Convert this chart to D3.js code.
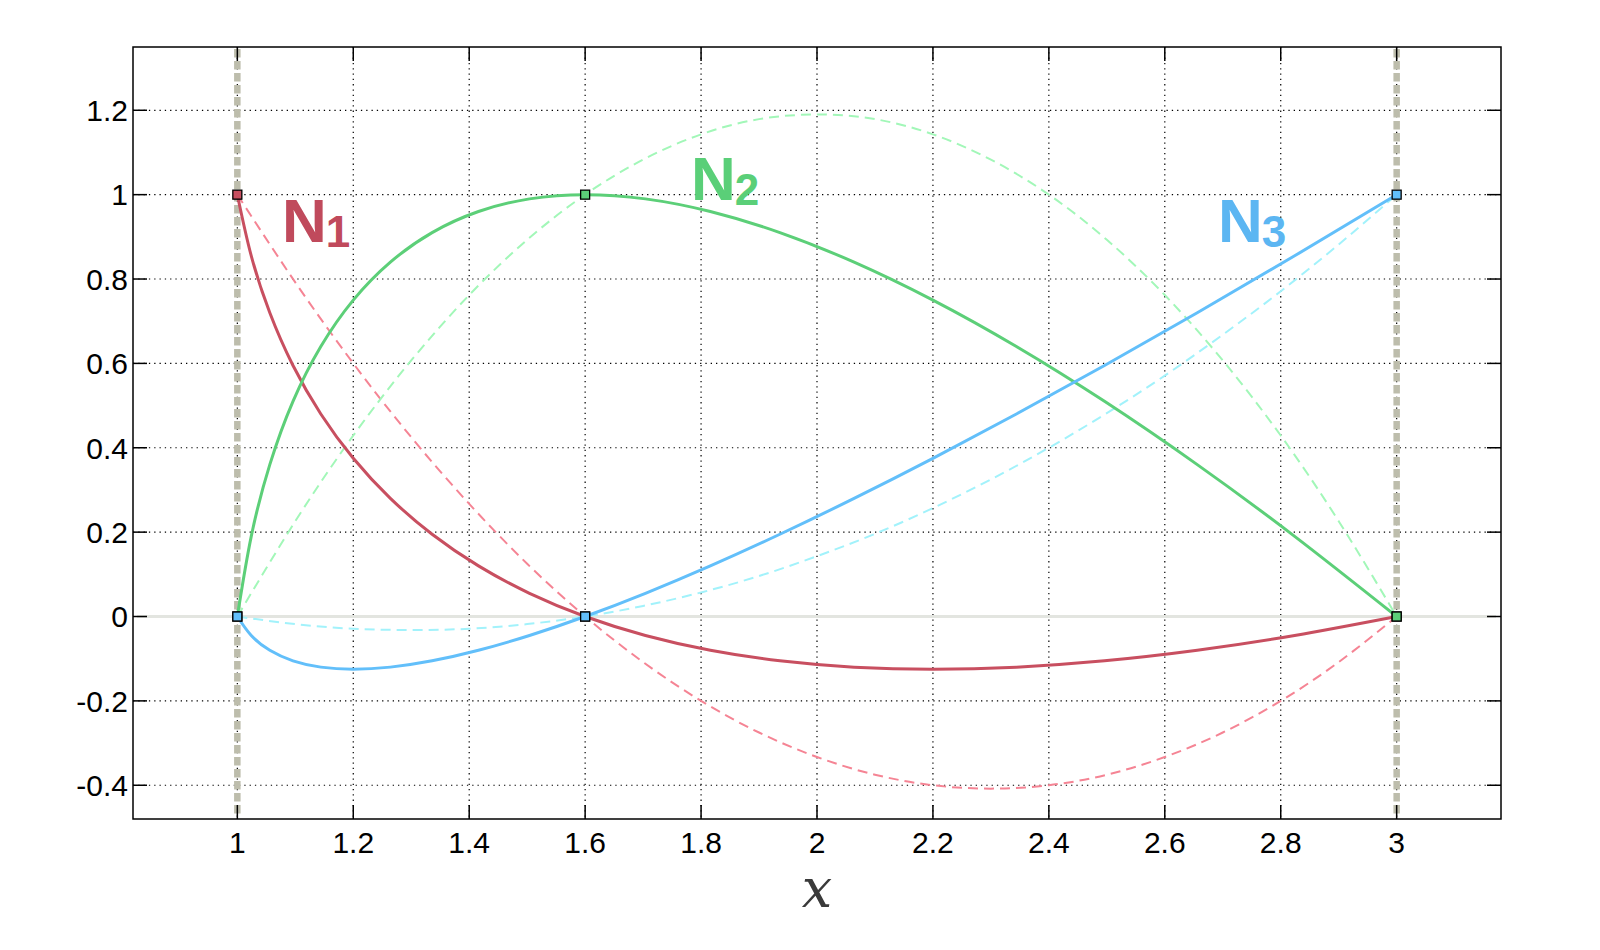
<!DOCTYPE html>
<html>
<head>
<meta charset="utf-8">
<script src="https://cdn.jsdelivr.net/npm/d3@7"></script>
<style>
  body { margin: 0; background: #fff; }
  svg { display: block; }
</style>
</head>
<body>
<svg id="chart" width="1600" height="950"></svg>
<script>
// nodes of the element
const nodeX = [1, 1.6, 3]

// solid curves (isoparametric mapping)
const solidX  = [1, 1.024, 1.056, 1.096, 1.144, 1.2, 1.264, 1.336, 1.416, 1.504, 1.6,
                 1.704, 1.816, 1.936, 2.064, 2.2, 2.344, 2.496, 2.656, 2.824, 3]
const solidN1 = [1, 0.855, 0.72, 0.595, 0.48, 0.375, 0.28, 0.195, 0.12, 0.055, 0,
                 -0.045, -0.08, -0.105, -0.12, -0.125, -0.12, -0.105, -0.08, -0.045, 0]
const solidN2 = [0, 0.19, 0.36, 0.51, 0.64, 0.75, 0.84, 0.91, 0.96, 0.99, 1,
                 0.99, 0.96, 0.91, 0.84, 0.75, 0.64, 0.51, 0.36, 0.19, 0]
const solidN3 = [0, -0.045, -0.08, -0.105, -0.12, -0.125, -0.12, -0.105, -0.08, -0.045, 0,
                 0.055, 0.12, 0.195, 0.28, 0.375, 0.48, 0.595, 0.72, 0.855, 1]

// dashed curves
const dashX  = [1, 1.1, 1.2, 1.3, 1.4, 1.5, 1.6, 1.7, 1.8, 1.9, 2,
                2.1, 2.2, 2.3, 2.4, 2.5, 2.6, 2.7, 2.8, 2.9, 3]
const dashN1 = [1, 0.792, 0.6, 0.425, 0.267, 0.125, 0, -0.108, -0.2, -0.275, -0.333,
                -0.375, -0.4, -0.408, -0.4, -0.375, -0.333, -0.275, -0.2, -0.108, 0]
const dashN2 = [0, 0.226, 0.429, 0.607, 0.762, 0.893, 1, 1.083, 1.143, 1.179, 1.19,
                1.179, 1.143, 1.083, 1, 0.893, 0.762, 0.607, 0.429, 0.226, 0]
const dashN3 = [0, -0.018, -0.029, -0.032, -0.029, -0.018, 0, 0.025, 0.057, 0.096, 0.143,
                0.196, 0.257, 0.325, 0.4, 0.482, 0.571, 0.668, 0.771, 0.882, 1]

// node values per shape function
const nodeN1 = [1, 0, 0]
const nodeN2 = [0, 1, 0]
const nodeN3 = [0, 0, 1]

const xTicks = [1, 1.2, 1.4, 1.6, 1.8, 2, 2.2, 2.4, 2.6, 2.8, 3]
const yTicks = [-0.4, -0.2, 0, 0.2, 0.4, 0.6, 0.8, 1, 1.2]

const svg = d3.select("#chart")
const pLeft = 133, pRight = 1501, pTop = 47, pBottom = 819

const x = d3.scaleLinear().domain([0.82, 3.18]).range([pLeft, pRight])
const y = d3.scaleLinear().domain([-0.48, 1.35]).range([pBottom, pTop])

const series = [
    { name: "1", solid: solidN1, dash: dashN1, node: nodeN1, col: "#c84f60", dcol: "#f58494", tcol: "#c04a5c", lx: 282, ly: 242 },
    { name: "2", solid: solidN2, dash: dashN2, node: nodeN2, col: "#5ccf78", dcol: "#a2f7b8", tcol: "#5acf78", lx: 691, ly: 200 },
    { name: "3", solid: solidN3, dash: dashN3, node: nodeN3, col: "#62bffa", dcol: "#a2f2fb", tcol: "#5cb6f2", lx: 1218, ly: 242 }
]

// grid
let grid = svg.append("g").attr("class", "grid")
grid.selectAll("line.gx")
    .data(xTicks)
    .enter().append("line")
    .attr("x1", d => x(d)).attr("x2", d => x(d))
    .attr("y1", pTop).attr("y2", pBottom)
grid.selectAll("line.gy")
    .data(yTicks)
    .enter().append("line")
    .attr("x1", pLeft).attr("x2", pRight)
    .attr("y1", d => y(d)).attr("y2", d => y(d))
grid.selectAll("line")
    .attr("stroke", "#000")
    .attr("stroke-width", 1.2)
    .attr("stroke-dasharray", "1.3,4")

// zero line
svg.append("line")
    .attr("x1", pLeft + 4).attr("x2", pRight - 5)
    .attr("y1", y(0)).attr("y2", y(0))
    .attr("stroke", "#e3e5e0")
    .attr("stroke-width", 3)

// element boundaries
svg.append("g").selectAll("line")
    .data([nodeX[0], nodeX[2]])
    .enter().append("line")
    .attr("x1", d => x(d)).attr("x2", d => x(d))
    .attr("y1", pTop + 2).attr("y2", pBottom - 2)
    .attr("stroke", "#bdbdac")
    .attr("stroke-width", 6.5)
    .attr("stroke-dasharray", "8.5,3.5")

// curves
const line = d3.line().curve(d3.curveNatural)

series.forEach(s => {
    svg.append("path")
        .attr("d", line(dashX.map((v, i) => [x(v), y(s.dash[i])])))
        .attr("fill", "none")
        .attr("stroke", s.dcol)
        .attr("stroke-width", 2)
        .attr("stroke-dasharray", "10,6")
})
series.forEach(s => {
    svg.append("path")
        .attr("d", line(solidX.map((v, i) => [x(v), y(s.solid[i])])))
        .attr("fill", "none")
        .attr("stroke", s.col)
        .attr("stroke-width", 3)
})

// node markers
series.forEach(s => {
    svg.append("g").selectAll("rect")
        .data(nodeX)
        .enter().append("rect")
        .attr("x", (d) => x(d) - 4.5)
        .attr("y", (d, i) => y(s.node[i]) - 4.5)
        .attr("width", 9).attr("height", 9)
        .attr("fill", s.col)
        .attr("stroke", "#000")
        .attr("stroke-width", 1.3)
})

// labels N1 N2 N3
series.forEach(s => {
    let t = svg.append("text")
        .attr("x", s.lx).attr("y", s.ly)
        .attr("fill", s.tcol)
        .style("font-family", "'Liberation Sans', Arial, sans-serif")
        .style("font-weight", "bold")
        .style("font-size", "62px")
    t.append("tspan").text("N")
    t.append("tspan").attr("dy", 5).attr("dx", -1).style("font-size", "44px").text(s.name)
})

// frame
svg.append("rect")
    .attr("x", pLeft).attr("y", pTop)
    .attr("width", pRight - pLeft).attr("height", pBottom - pTop)
    .attr("fill", "none")
    .attr("stroke", "#000")
    .attr("stroke-width", 1.5)

// ticks (inward, all four sides)
let tk = svg.append("g").attr("stroke", "#000").attr("stroke-width", 1.5)
xTicks.forEach(d => {
    tk.append("line").attr("x1", x(d)).attr("x2", x(d)).attr("y1", pBottom).attr("y2", pBottom - 14)
    tk.append("line").attr("x1", x(d)).attr("x2", x(d)).attr("y1", pTop).attr("y2", pTop + 14)
})
yTicks.forEach(d => {
    tk.append("line").attr("x1", pLeft).attr("x2", pLeft + 14).attr("y1", y(d)).attr("y2", y(d))
    tk.append("line").attr("x1", pRight).attr("x2", pRight - 14).attr("y1", y(d)).attr("y2", y(d))
})

// tick labels
svg.append("g").selectAll("text")
    .data(xTicks)
    .enter().append("text")
    .attr("x", d => x(d))
    .attr("y", 853)
    .attr("text-anchor", "middle")
    .style("font-family", "'Liberation Sans', Arial, sans-serif")
    .style("font-size", "30px")
    .text(d => String(d))

svg.append("g").selectAll("text")
    .data(yTicks)
    .enter().append("text")
    .attr("x", pLeft - 5)
    .attr("y", d => y(d))
    .attr("dy", "0.36em")
    .attr("text-anchor", "end")
    .style("font-family", "'Liberation Sans', Arial, sans-serif")
    .style("font-size", "30px")
    .text(d => String(d))

// axis label
svg.append("text")
    .attr("x", 817).attr("y", 907)
    .attr("text-anchor", "middle")
    .attr("fill", "#3a3a3a")
    .style("font-family", "'DejaVu Serif', serif")
    .style("font-style", "italic")
    .style("font-size", "54px")
    .text("x")
</script>
</body>
</html>
